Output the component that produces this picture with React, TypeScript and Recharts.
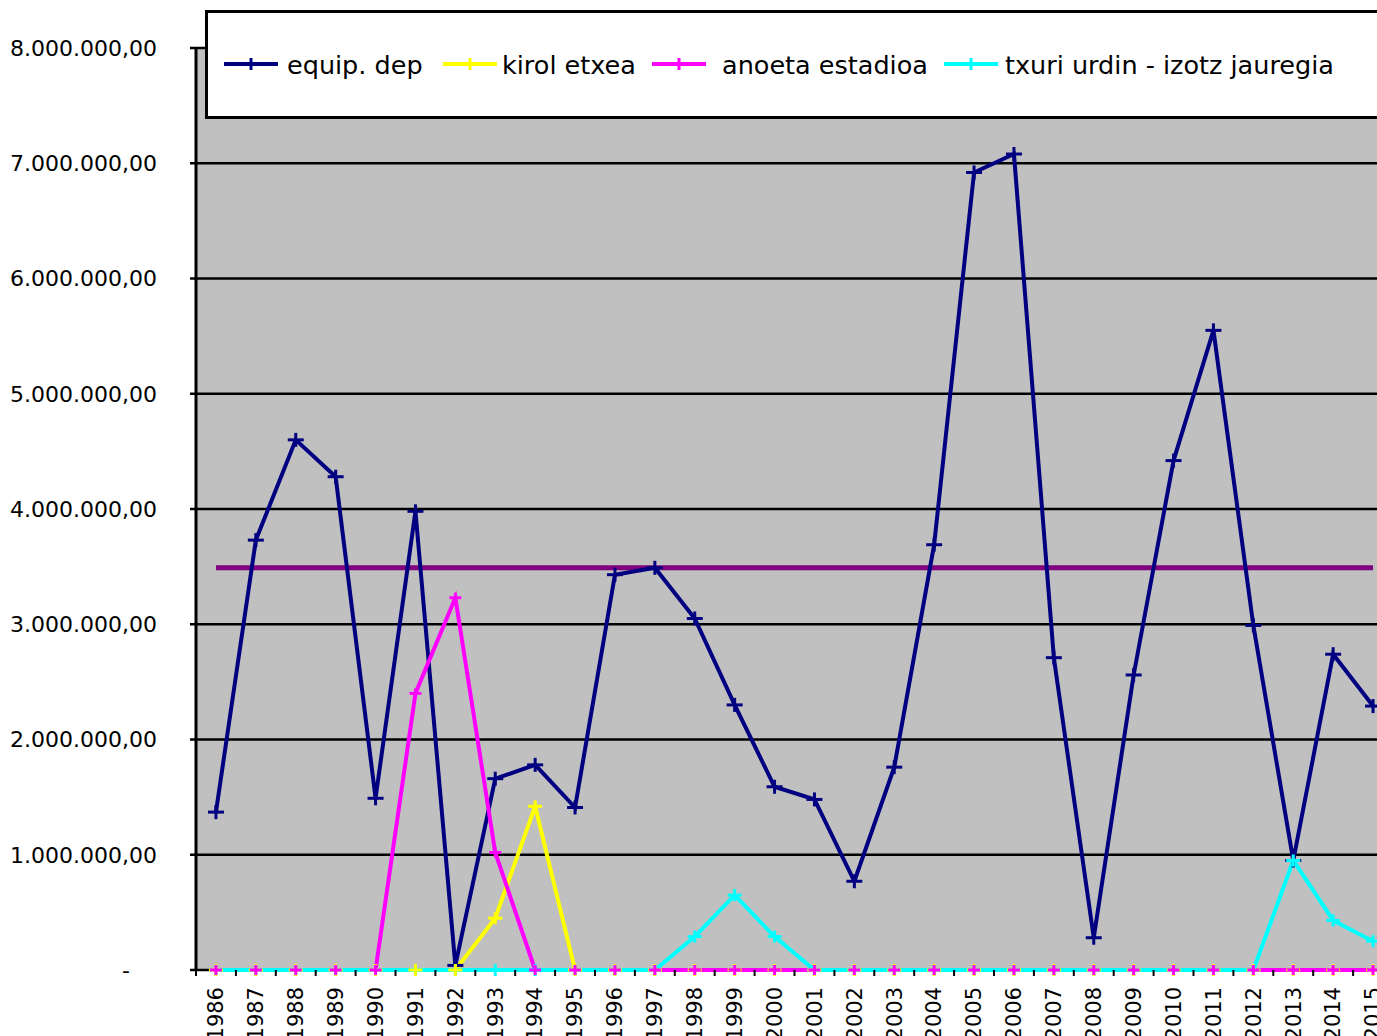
import React from 'react';
import { LineChart, Line, XAxis, YAxis, CartesianGrid, ReferenceLine } from 'recharts';

// Years on the category axis
const years = [
    '1986', '1987', '1988', '1989', '1990', '1991', '1992', '1993', '1994', '1995',
    '1996', '1997', '1998', '1999', '2000', '2001', '2002', '2003', '2004', '2005',
    '2006', '2007', '2008', '2009', '2010', '2011', '2012', '2013', '2014', '2015',
];

// Series values (euros)
const equipDep = [
    1370000, 3730000, 4600000, 4280000, 1490000, 3980000, 40000, 1660000, 1780000, 1410000,
    3430000, 3490000, 3050000, 2300000, 1590000, 1480000, 770000, 1760000, 3690000, 6920000,
    7080000, 2710000, 280000, 2560000, 4420000, 5550000, 2990000, 950000, 2740000, 2290000,
];
const kirolEtxea = [
    0, 0, 0, 0, 0, 0, 0, 450000, 1420000, 0,
    0, 0, 0, 0, 0, 0, 0, 0, 0, 0,
    0, 0, 0, 0, 0, 0, 0, 0, 0, 0,
];
const anoetaEstadioa = [
    0, 0, 0, 0, 0, 2400000, 3230000, 1020000, 0, 0,
    0, 0, 0, 0, 0, 0, 0, 0, 0, 0,
    0, 0, 0, 0, 0, 0, 0, 0, 0, 0,
];
const txuriUrdin = [
    0, 0, 0, 0, 0, 0, 0, 0, 0, 0,
    0, 0, 290000, 650000, 290000, 0, 0, 0, 0, 0,
    0, 0, 0, 0, 0, 0, 0, 950000, 430000, 250000,
];

// Horizontal average line
const AVERAGE = 3490000;

const yTicks = [0, 1000000, 2000000, 3000000, 4000000, 5000000, 6000000, 7000000, 8000000];

const NAVY = '#000080';
const YELLOW = '#FFFF00';
const MAGENTA = '#FF00FF';
const CYAN = '#00FFFF';
const PURPLE = '#800080';

const FONT = '"DejaVu Sans", Verdana, sans-serif';

const series = [
    { key: 'equip', name: 'equip. dep', color: NAVY, values: equipDep },
    { key: 'kirol', name: 'kirol etxea', color: YELLOW, values: kirolEtxea },
    { key: 'anoeta', name: 'anoeta estadioa', color: MAGENTA, values: anoetaEstadioa },
    { key: 'txuri', name: 'txuri urdin - izotz jauregia', color: CYAN, values: txuriUrdin },
];

const chartData = years.map((year, i) => {
    const row: Record<string, string | number> = { year };
    series.forEach(s => { row[s.key] = s.values[i]; });
    return row;
});

// 8.000.000,00 style
const formatEuro = (v: number) =>
    Math.round(v).toString().replace(/\B(?=(\d{3})+(?!\d))/g, '.') + ',00';

const PlusDot = ({ cx, cy, color, index, size = 6 }: any) => {
    if (cx == null || cy == null) return <g key={index} />;
    return (
        <g key={index}>
            <line x1={cx - size - 1} x2={cx + size + 1} y1={cy} y2={cy} stroke={color} strokeWidth={3} />
            <line x1={cx} x2={cx} y1={cy - size} y2={cy + size} stroke={color} strokeWidth={3} />
        </g>
    );
};

const YTick = ({ x, y, payload }: any) => (
    <text
        x={payload.value === 0 ? x - 27 : x}
        y={y}
        dy="0.355em"
        textAnchor="end"
        fontFamily={FONT}
        fontSize={22}
        fill="#000"
    >
        {payload.value === 0 ? '-' : formatEuro(payload.value)}
    </text>
);

// tick marks sit between categories, labels rotated at the category centre
const XTick = ({ x, y, payload }: any) => {
    const off = payload.offset ?? 0;
    return (
        <g>
            <line x1={x - off} x2={x - off} y1={y} y2={y + 6} stroke="#000" strokeWidth={2} />
            <text
                x={x}
                y={y + 17}
                dy="0.35em"
                textAnchor="end"
                transform={`rotate(-90, ${x}, ${y + 17})`}
                fontFamily={FONT}
                fontSize={21}
                fill="#000"
            >
                {payload.value}
            </text>
        </g>
    );
};

const legendSlots = [
    { sample: 16, text: 79 },
    { sample: 235, text: 294 },
    { sample: 444, text: 514 },
    { sample: 736, text: 797 },
];

const ChartLegend = () => (
    <div
        style={{
            position: 'absolute',
            left: 205,
            top: 10,
            width: 1300,
            height: 109,
            boxSizing: 'border-box',
            border: '3px solid #000',
            background: '#fff',
            fontFamily: FONT,
            fontSize: 25.5,
            color: '#000',
        }}
    >
        {series.map((s, i) => (
            <React.Fragment key={s.key}>
                <svg
                    width={54}
                    height={14}
                    style={{ position: 'absolute', left: legendSlots[i].sample, top: 44 }}
                >
                    <line x1={0} x2={54} y1={7} y2={7} stroke={s.color} strokeWidth={4} />
                    <line x1={27} x2={27} y1={1} y2={13} stroke={s.color} strokeWidth={3} />
                </svg>
                <div
                    style={{
                        position: 'absolute',
                        left: legendSlots[i].text,
                        top: 0,
                        height: 103,
                        display: 'flex',
                        alignItems: 'center',
                        whiteSpace: 'nowrap',
                    }}
                >
                    {s.name}
                </div>
            </React.Fragment>
        ))}
    </div>
);

const App: React.FC = () => {
    return (
        <div
            style={{
                position: 'fixed',
                left: 0,
                top: 0,
                width: 1377,
                height: 1036,
                overflow: 'hidden',
                background: '#fff',
            }}
        >
            <LineChart
                width={1400}
                height={1036}
                data={chartData}
                margin={{ top: 48, right: 7, bottom: 0, left: 0 }}
            >
                {/* the zero gridline doubles as the x axis line, so the series sit on top of it */}
                <CartesianGrid vertical={false} fill="#C0C0C0" stroke="#000" strokeWidth={2.5} />
                <XAxis
                    dataKey="year"
                    scale="band"
                    interval={0}
                    height={66}
                    tickSize={0}
                    tickMargin={0}
                    tickLine={false}
                    axisLine={false}
                    tick={<XTick />}
                />
                <YAxis
                    width={196}
                    domain={[0, 8000000]}
                    ticks={yTicks}
                    tickSize={6}
                    tickMargin={33}
                    axisLine={{ stroke: '#000', strokeWidth: 3 }}
                    tickLine={{ stroke: '#000', strokeWidth: 2.5 }}
                    tick={<YTick />}
                />
                <ReferenceLine
                    segment={[{ x: years[0], y: AVERAGE }, { x: years[years.length - 1], y: AVERAGE }]}
                    stroke={PURPLE}
                    strokeWidth={5}
                />
                <Line
                    type="linear"
                    dataKey="equip"
                    stroke={NAVY}
                    strokeWidth={4}
                    dot={(p: any) => <PlusDot key={p.index} {...p} color={NAVY} size={7} />}
                    activeDot={false}
                    isAnimationActive={false}
                />
                <Line type="linear" dataKey="kirol" stroke={YELLOW} strokeWidth={4} dot={false} activeDot={false} isAnimationActive={false} />
                <Line type="linear" dataKey="anoeta" stroke={MAGENTA} strokeWidth={4} dot={false} activeDot={false} isAnimationActive={false} />
                <Line type="linear" dataKey="txuri" stroke={CYAN} strokeWidth={4} dot={false} activeDot={false} isAnimationActive={false} />
                {/* markers drawn after all lines, like the original */}
                <Line
                    type="linear"
                    dataKey="txuri"
                    stroke="none"
                    dot={(p: any) => <PlusDot key={p.index} {...p} color={CYAN} />}
                    activeDot={false}
                    isAnimationActive={false}
                />
                <Line
                    type="linear"
                    dataKey="kirol"
                    stroke="none"
                    dot={(p: any) => <PlusDot key={p.index} {...p} color={YELLOW} />}
                    activeDot={false}
                    isAnimationActive={false}
                />
                <Line
                    type="linear"
                    dataKey="anoeta"
                    stroke="none"
                    dot={(p: any) => <PlusDot key={p.index} {...p} color={MAGENTA} size={5} />}
                    activeDot={false}
                    isAnimationActive={false}
                />
            </LineChart>
            <ChartLegend />
        </div>
    );
};

export default App;
